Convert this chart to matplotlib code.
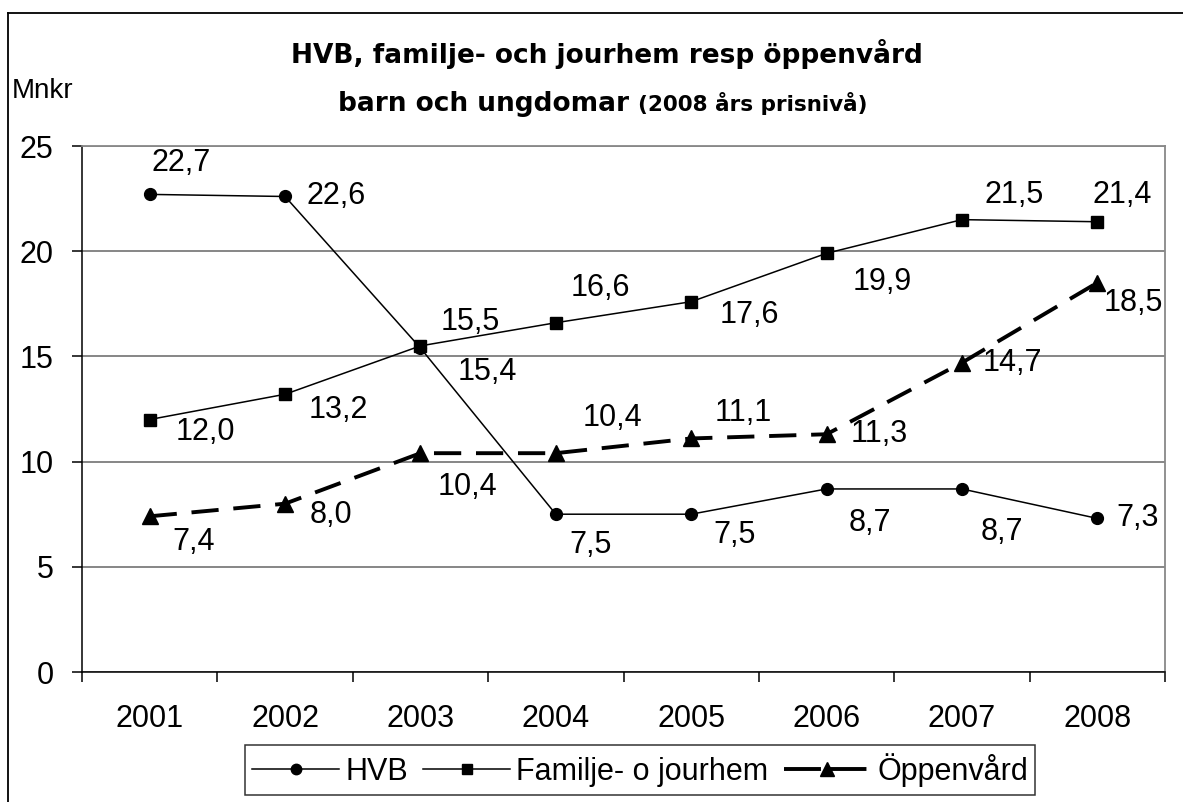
import matplotlib.pyplot as plt
import numpy as np
from matplotlib.lines import Line2D

plt.rcParams['font.family'] = ['Liberation Sans', 'DejaVu Sans']

# Data
years = ['2001', '2002', '2003', '2004', '2005', '2006', '2007', '2008']
hvb = [22.7, 22.6, 15.4, 7.5, 7.5, 8.7, 8.7, 7.3]
familje = [12.0, 13.2, 15.5, 16.6, 17.6, 19.9, 21.5, 21.4]
oppen = [7.4, 8.0, 10.4, 10.4, 11.1, 11.3, 14.7, 18.5]

# Label offsets in pixels (dx right, dy down) as placed in the original
hvb_off = [(31, -31), (51, 0), (67, 24), (35, 31), (43, 21), (43, 34), (40, 43), (40, 0)]
fam_off = [(56, 12), (53, 16), (50, -24), (45, -35), (58, 13), (56, 29), (52, -25), (25, -27)]
opp_off = [(44, 26), (46, 11), (47, 34), (57, -35), (52, -25), (53, 0), (50, 0), (36, 20)]

W, H = 1183, 802
fig = plt.figure(figsize=(W / 100, H / 100), dpi=100)
ax = fig.add_axes([82 / W, (H - 672) / H, (1165 - 82) / W, (672 - 146) / H])

x = np.arange(len(years))

ax.plot(x, hvb, color='black', lw=1.1, marker='o', ms=8.5)
ax.plot(x, familje, color='black', lw=1.1, marker='s', ms=8)
ax.plot(x, oppen, color='black', lw=2.8, marker='^', ms=11, dashes=(7, 3.8))

for vals, offs in [(hvb, hvb_off), (familje, fam_off), (oppen, opp_off)]:
    for xi, v, (dx, dy) in zip(x, vals, offs):
        ax.annotate(f'{v:.1f}'.replace('.', ','), (xi, v), xytext=(dx, -dy),
                    textcoords='offset pixels', ha='center', va='center', fontsize=22)

ax.set_xlim(-0.5, len(years) - 0.5)
ax.set_ylim(0, 25)
ax.set_yticks([0, 5, 10, 15, 20, 25])
ax.set_xticks(x)
ax.set_xticklabels(years, fontsize=22)
ax.set_xticks(np.arange(len(years) + 1) - 0.5, minor=True)
ax.tick_params(axis='x', which='major', length=0, pad=23)
ax.tick_params(axis='x', which='minor', length=7.5, width=1.1, direction='out')
ax.tick_params(axis='y', length=7.5, width=1.1, labelsize=22, pad=13)

ax.grid(axis='y', color='#666666', lw=1.1)
ax.set_axisbelow(True)
for side in ['top', 'right']:
    ax.spines[side].set_color('#888888')
    ax.spines[side].set_linewidth(1.3)
for side in ['left', 'bottom']:
    ax.spines[side].set_color('black')
    ax.spines[side].set_linewidth(1.1)

# Titles
title_font = ['DejaVu Sans']
fig.text(607 / W, 1 - 63 / H, 'HVB, familje- och jourhem resp öppenvård',
         ha='center', va='baseline', fontsize=19, fontweight='bold', family=title_font)
t2a = fig.text(0, 1 - 111 / H, 'barn och ungdomar ', ha='left', va='baseline',
               fontsize=19, fontweight='bold', family=title_font)
t2b = fig.text(0, 1 - 111 / H, '(2008 års prisnivå)', ha='left', va='baseline',
               fontsize=15.5, fontweight='bold', family=title_font)
fig.canvas.draw()
wa = t2a.get_window_extent().width
wb = t2b.get_window_extent().width
start = 603 - (wa + wb) / 2
t2a.set_x(start / W)
t2b.set_x((start + wa) / W)

fig.text(12 / W, 1 - 98 / H, 'Mnkr', ha='left', va='baseline', fontsize=20)

# Outer chart frame
fig.add_artist(Line2D([8 / W, 1], [1 - 13 / H, 1 - 13 / H], color='black', lw=1.3,
                      transform=fig.transFigure))
fig.add_artist(Line2D([8 / W, 8 / W], [0, 1 - 13 / H], color='black', lw=1.3,
                      transform=fig.transFigure))

# Legend
handles = [
    Line2D([], [], color='black', lw=1.1, marker='o', ms=7.5),
    Line2D([], [], color='black', lw=1.1, marker='s', ms=7),
    Line2D([], [], color='black', lw=2.8, marker='^', ms=10, dashes=(9.5, 2.2)),
]
labels = ['HVB', 'Familje- o jourhem', 'Öppenvård']
leg = fig.legend(handles, labels, loc='center', bbox_to_anchor=(640 / W, 1 - 770 / H),
                 ncol=3, fontsize=22, frameon=True, fancybox=False, edgecolor='black',
                 handlelength=2.85, handletextpad=0.2, columnspacing=0.5,
                 borderpad=0.25, borderaxespad=0)
leg.get_frame().set_linewidth(1.1)

plt.savefig('out.png', dpi=100)
